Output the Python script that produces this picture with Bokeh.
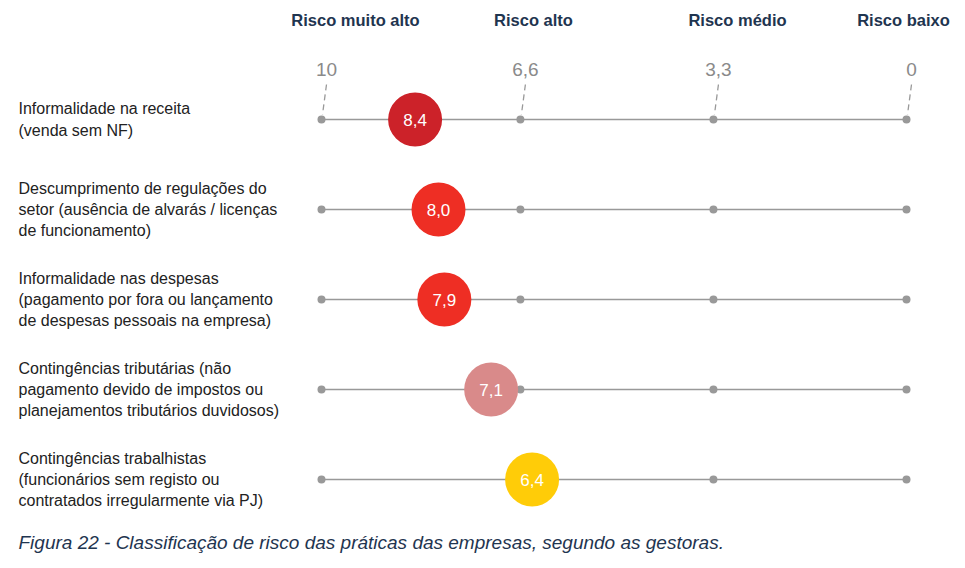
from bokeh.plotting import figure
from bokeh.models import Range1d, ColumnDataSource
from bokeh.core.properties import value
from bokeh.embed import file_html
from bokeh.resources import INLINE

# ---------------- data ----------------
categories = [
    "Informalidade na receita\n(venda sem NF)",
    "Descumprimento de regulações do\nsetor (ausência de alvarás / licenças\nde funcionamento)",
    "Informalidade nas despesas\n(pagamento por fora ou lançamento\nde despesas pessoais na empresa)",
    "Contingências tributárias (não\npagamento devido de impostos ou\nplanejamentos tributários duvidosos)",
    "Contingências trabalhistas\n(funcionários sem registo ou\ncontratados irregularmente via PJ)",
]
values = [8.4, 8.0, 7.9, 7.1, 6.4]
value_labels = ["8,4", "8,0", "7,9", "7,1", "6,4"]
scale_ticks = [10, 6.6, 3.3, 0]
tick_labels = ["10", "6,6", "3,3", "0"]
risk_levels = ["Risco muito alto", "Risco alto", "Risco médio", "Risco baixo"]
caption = "Figura 22 - Classificação de risco das práticas das empresas, segundo as gestoras."

# ---------------- style / layout ----------------
bubble_colors = ["#cc2229", "#ee2e24", "#ee2e24", "#d98a8a", "#ffcc08"]
W, H = 965, 568
PPU = 58.5            # pixels per scale unit
X10_PX = 321          # pixel where value 10 sits
ROW0_PX, ROW_STEP = 119, 90
FONT = value("Liberation Sans")
NAVY = "#1f3550"
GREY = "#999999"

x_start = 10 + X10_PX / PPU
x_end = x_start - W / PPU
def px_x(px):
    return x_start - px / PPU
def py(px):
    return (px - ROW0_PX) / ROW_STEP

p = figure(width=W, height=H, x_range=Range1d(x_start, x_end),
           y_range=Range1d(py(H), py(0)), output_backend="svg",
           toolbar_location=None, min_border=0)
p.axis.visible = False
p.grid.visible = False
p.outline_line_color = None
p.background_fill_color = "white"
p.border_fill_color = "white"

rows = list(range(len(categories)))
lo, hi = min(scale_ticks), max(scale_ticks)

# horizontal row lines
p.segment(x0=[hi] * len(rows), x1=[lo] * len(rows), y0=rows, y1=rows,
          line_color=GREY, line_width=1.3)

# grey dots at scale ticks on every row
dx = [t for r in rows for t in scale_ticks]
dy = [r for r in rows for t in scale_ticks]
p.scatter(x=dx, y=dy, size=8, fill_color=GREY, line_color=None)

# tick labels and dashed connectors
p.text(x=[t - 5 / PPU for t in scale_ticks], y=[py(69)] * len(scale_ticks),
       text=tick_labels, text_font=FONT, text_font_size="19px",
       text_color="#8a8a8a", text_align="center", text_baseline="middle")
p.segment(x0=[t - 5 / PPU for t in scale_ticks], x1=[t - 1 / PPU for t in scale_ticks],
          y0=[py(84)] * len(scale_ticks), y1=[py(114)] * len(scale_ticks),
          line_color=GREY, line_width=1.3, line_dash="6 4")

# risk headers
header_px = [355, 533, 737, 903]
p.text(x=[px_x(h) for h in header_px], y=[py(19)] * len(risk_levels),
       text=risk_levels, text_font=FONT, text_font_size="16.5px",
       text_font_style="bold", text_color=NAVY,
       text_align="center", text_baseline="middle")

# category labels
p.text(x=[px_x(18)] * len(rows), y=rows, text=categories, text_font=FONT,
       text_font_size="16px", text_color="#222222", text_align="left",
       text_baseline="middle", text_line_height=1.25)

# bubbles
src = ColumnDataSource(dict(x=values, y=rows, lab=value_labels, c=bubble_colors))
p.scatter(x="x", y="y", source=src, size=54, fill_color="c", line_color=None)
p.text(x="x", y="y", text="lab", source=src, text_font=FONT,
       text_font_size="17px", text_color="white",
       text_align="center", text_baseline="middle")

# caption
p.text(x=[px_x(18)], y=[py(542)], text=[caption], text_font=FONT,
       text_font_size="19px", text_font_style="italic", text_color=NAVY,
       text_align="left", text_baseline="middle")

open("out.html", "w").write(file_html(p, INLINE))
